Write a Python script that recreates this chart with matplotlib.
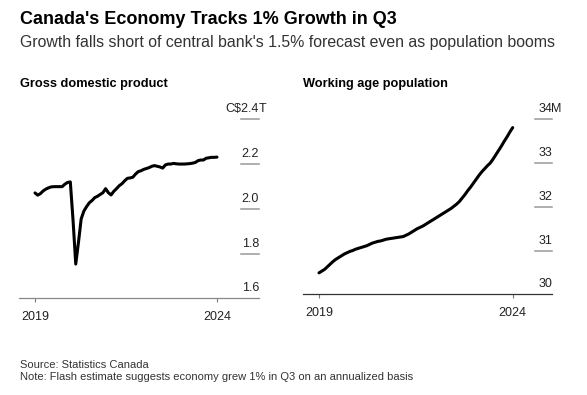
import numpy as np
import matplotlib.pyplot as plt
import matplotlib.transforms as mtransforms

# monthly real GDP, C$ trillions, Jan 2019 - Aug 2024
gdp = [2.071, 2.061, 2.068, 2.080, 2.088, 2.094, 2.098, 2.099, 2.099, 2.099,
       2.099, 2.110, 2.118, 2.120, 1.950, 1.753, 1.850, 1.955, 1.990, 2.010,
       2.027, 2.037, 2.050, 2.056, 2.064, 2.072, 2.090, 2.072, 2.062, 2.078,
       2.090, 2.103, 2.112, 2.125, 2.136, 2.138, 2.141, 2.155, 2.166, 2.170,
       2.176, 2.180, 2.184, 2.190, 2.193, 2.190, 2.187, 2.182, 2.196, 2.200,
       2.200, 2.203, 2.201, 2.200, 2.200, 2.200, 2.201, 2.202, 2.204, 2.207,
       2.215, 2.218, 2.218, 2.226, 2.228, 2.230, 2.230, 2.231]

# monthly working age population, millions, Jan 2019 - Oct 2024
pop = [30.49, 30.53, 30.57, 30.63, 30.69, 30.75, 30.80, 30.84, 30.88, 30.92,
       30.95, 30.98, 31.00, 31.03, 31.05, 31.07, 31.09, 31.11, 31.14, 31.17,
       31.19, 31.21, 31.22, 31.24, 31.26, 31.27, 31.28, 31.29, 31.30, 31.31,
       31.32, 31.35, 31.38, 31.42, 31.46, 31.50, 31.53, 31.56, 31.60, 31.64,
       31.68, 31.72, 31.76, 31.80, 31.84, 31.88, 31.92, 31.96, 32.01, 32.06,
       32.12, 32.20, 32.28, 32.37, 32.45, 32.54, 32.63, 32.72, 32.80, 32.87,
       32.94, 33.00, 33.09, 33.19, 33.29, 33.39, 33.50, 33.60, 33.71, 33.81]

gdp_ticks = [1.6, 1.8, 2.0, 2.2, 2.4]
gdp_labels = ["1.6", "1.8", "2.0", "2.2", "2.4"]
pop_ticks = [30, 31, 32, 33, 34]
pop_labels = ["30", "31", "32", "33", "34"]
year_labels = ["2019", "2024"]

plt.rcParams['font.family'] = ['Liberation Sans', 'DejaVu Sans']

W, H = 587, 395
fig = plt.figure(figsize=(W / 100, H / 100), dpi=100)


def box(x0, x1, y_top, y_bot):
    return [x0 / W, 1 - y_bot / H, (x1 - x0) / W, (y_bot - y_top) / H]


def panel(ax, values, ticks, labels, prefix, suffix, xlim, tick_start, base_color):
    n = len(values)
    ax.plot(np.arange(n), values, color="black", lw=2.2, solid_capstyle="round",
            solid_joinstyle="round", clip_on=False)
    ax.set_xlim(*xlim)
    ax.set_ylim(ticks[0], ticks[-1])
    for s in ["top", "left", "right"]:
        ax.spines[s].set_visible(False)
    ax.spines["bottom"].set_color(base_color)
    ax.spines["bottom"].set_linewidth(0.9)
    ax.set_yticks([])
    ax.set_xticks([0, n - 1])
    ax.set_xticklabels(year_labels)
    ax.tick_params(axis="x", length=3, width=0.8, color="#777777", pad=6.5,
                   labelsize=9, labelcolor="#222222")
    trans = mtransforms.blended_transform_factory(ax.transAxes, ax.transData)
    for i, (v, lab) in enumerate(zip(ticks, labels)):
        if i > 0:
            ax.plot([tick_start, 1.0], [v, v], transform=trans, color="#999999",
                    lw=1.1, clip_on=False)
        if i == len(ticks) - 1:
            lab = prefix + lab
            ax.annotate(suffix, (1.0, v), xycoords=trans, xytext=(-0.4, 5),
                        textcoords="offset points", ha="left", va="baseline",
                        fontsize=9, color="#222222")
        ax.annotate(lab, (1.0, v), xycoords=trans, xytext=(0, 5),
                    textcoords="offset points", ha="right", va="baseline",
                    fontsize=9, color="#222222")


ax1 = fig.add_axes(box(19, 259, 119.3, 298.3))
panel(ax1, gdp, gdp_ticks, gdp_labels, "C$", "T", (-5.89, 82.46), 0.924, "#888888")

ax2 = fig.add_axes(box(303, 552, 119.3, 294.3))
panel(ax2, pop, pop_ticks, pop_labels, "", "M", (-5.70, 83.0), 0.933, "#333333")

fig.text(20 / W, 1 - 24 / H, "Canada's Economy Tracks 1% Growth in Q3",
         fontsize=13, fontweight="bold", va="baseline", color="black")
fig.text(20 / W, 1 - 46.7 / H,
         "Growth falls short of central bank's 1.5% forecast even as population booms",
         fontsize=11.4, va="baseline", color="#333333")
fig.text(20 / W, 1 - 87.3 / H, "Gross domestic product", fontsize=9.2,
         fontweight="bold", va="baseline", color="black")
fig.text(303 / W, 1 - 87.3 / H, "Working age population", fontsize=9.2,
         fontweight="bold", va="baseline", color="black")
fig.text(20 / W, 1 - 367.7 / H, "Source: Statistics Canada", fontsize=8,
         va="baseline", color="#333333")
fig.text(20 / W, 1 - 380.5 / H,
         "Note: Flash estimate suggests economy grew 1% in Q3 on an annualized basis",
         fontsize=8, va="baseline", color="#333333")

fig.savefig("out.png", dpi=100, facecolor="white")
